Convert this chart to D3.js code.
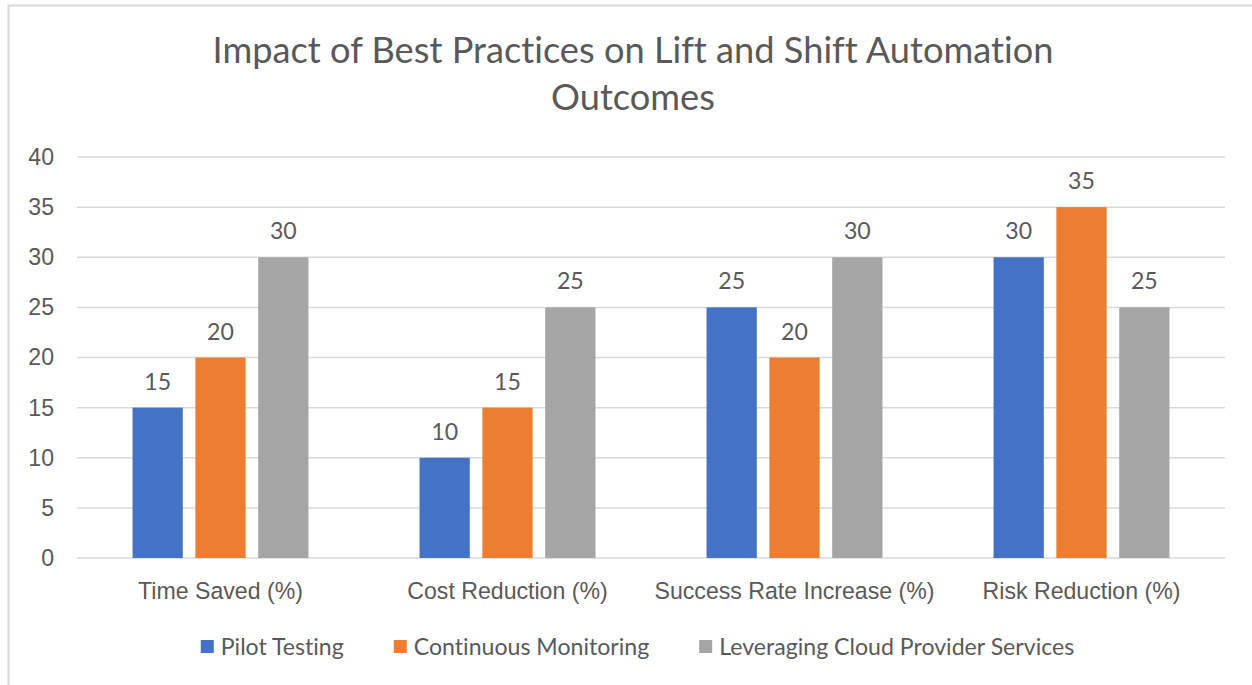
<!DOCTYPE html>
<html>
<head>
<meta charset="utf-8">
<script src="https://cdn.jsdelivr.net/npm/d3@7"></script>
<style>
  html, body { margin: 0; padding: 0; background: #fff; }
  svg { display: block; font-family: Lato, "Open Sans", sans-serif; font-variant-ligatures: none; font-feature-settings: "liga" 0, "clig" 0; }
</style>
</head>
<body>
<div id="chart"></div>
<script>
const categories = ['Time Saved (%)', 'Cost Reduction (%)', 'Success Rate Increase (%)', 'Risk Reduction (%)'];
const seriesNames = ['Pilot Testing', 'Continuous Monitoring', 'Leveraging Cloud Provider Services'];
const pilotTesting = [15, 10, 25, 30];
const continuousMonitoring = [20, 15, 20, 35];
const cloudServices = [30, 25, 30, 25];
const yTicks = [0, 5, 10, 15, 20, 25, 30, 35, 40];
const titleLines = ['Impact of Best Practices on Lift and Shift Automation', 'Outcomes'];

const colors = ['#4472c4', '#ed7d31', '#a5a5a5'];
const seriesValues = [pilotTesting, continuousMonitoring, cloudServices];

const width = 1252, height = 685;
const plot = { left: 77, right: 1225, top: 157, bottom: 558 };
const textColor = '#595959';
const gridColor = '#d9d9d9';

const svg = d3.select('#chart').append('svg')
  .attr('width', width)
  .attr('height', height);

// chart area border (only top and left visible in the crop)
svg.append('rect')
  .attr('x', 8.5).attr('y', 5.5)
  .attr('width', width + 20).attr('height', height + 20)
  .attr('fill', 'none')
  .attr('stroke', gridColor)
  .attr('stroke-width', 2);

// shrink / grow a font so a sample string hits a target width
function fitSize(text, target, base) {
  const t = svg.append('text').attr('font-size', base).text(text);
  const w = t.node().getComputedTextLength();
  t.remove();
  return base * target / w;
}

const titleSize = fitSize(titleLines[0], 841, 32);
const labelSize = fitSize(categories[1], 192, 20);

// title
svg.append('g')
  .selectAll('text')
  .data(titleLines)
  .join('text')
  .attr('x', 633)
  .attr('y', (d, i) => 63 + i * 47)
  .attr('text-anchor', 'middle')
  .attr('font-size', titleSize)
  .attr('fill', textColor)
  .text(d => d);

const y = d3.scaleLinear()
  .domain([0, 40])
  .range([plot.bottom, plot.top]);

const x0 = d3.scaleBand()
  .domain(categories)
  .range([plot.left, plot.right])
  .paddingInner(0.387)
  .paddingOuter(0.387 / 2);

const x1 = d3.scaleBand()
  .domain(seriesNames)
  .range([0, x0.bandwidth()])
  .paddingInner(0.2);

// gridlines
svg.append('g')
  .selectAll('line')
  .data(yTicks)
  .join('line')
  .attr('x1', plot.left).attr('x2', plot.right)
  .attr('y1', d => y(d)).attr('y2', d => y(d))
  .attr('stroke', gridColor)
  .attr('stroke-width', 1.5);

// y axis labels
const yAxis = svg.append('g')
  .attr('transform', `translate(${plot.left - 23},0)`)
  .call(d3.axisLeft(y).tickValues(yTicks).tickSize(0).tickPadding(0));
yAxis.select('.domain').remove();
yAxis.selectAll('text')
  .attr('font-size', labelSize)
  .attr('font-family', null)
  .attr('fill', textColor);

// bars
const groups = svg.append('g')
  .selectAll('g')
  .data(categories)
  .join('g')
  .attr('transform', d => `translate(${x0(d)},0)`);

const cells = groups.selectAll('g')
  .data((c, ci) => seriesNames.map((s, si) => ({ s, si, v: seriesValues[si][ci] })))
  .join('g');

cells.append('rect')
  .attr('x', d => x1(d.s))
  .attr('y', d => y(d.v))
  .attr('width', x1.bandwidth())
  .attr('height', d => y(0) - y(d.v))
  .attr('fill', d => colors[d.si]);

cells.append('text')
  .attr('x', d => x1(d.s) + x1.bandwidth() / 2)
  .attr('y', d => y(d.v) - 18)
  .attr('text-anchor', 'middle')
  .attr('font-size', labelSize)
  .attr('fill', textColor)
  .text(d => d.v);

// category axis
const xAxis = svg.append('g')
  .attr('transform', `translate(0,${plot.bottom})`)
  .call(d3.axisBottom(x0).tickSize(0).tickPadding(0));
xAxis.select('.domain').remove();
xAxis.selectAll('text')
  .attr('dy', null)
  .attr('y', 41)
  .attr('font-size', labelSize)
  .attr('font-family', null)
  .attr('fill', textColor);

// legend
const legend = svg.append('g');
const items = legend.selectAll('g')
  .data(seriesNames)
  .join('g');
items.append('rect')
  .attr('width', 13).attr('height', 13)
  .attr('y', -7)
  .attr('fill', (d, i) => colors[i]);
items.append('text')
  .attr('x', 20)
  .attr('dy', '0.35em')
  .attr('font-size', labelSize)
  .attr('fill', textColor)
  .text(d => d);

let offset = 0;
const offsets = [];
items.each(function () {
  offsets.push(offset);
  offset += 20 + d3.select(this).select('text').node().getComputedTextLength() + 50;
});
const legendWidth = offset - 50;
const legendX = 637.5 - legendWidth / 2;
items.attr('transform', (d, i) => `translate(${legendX + offsets[i]},647)`);
</script>
</body>
</html>
